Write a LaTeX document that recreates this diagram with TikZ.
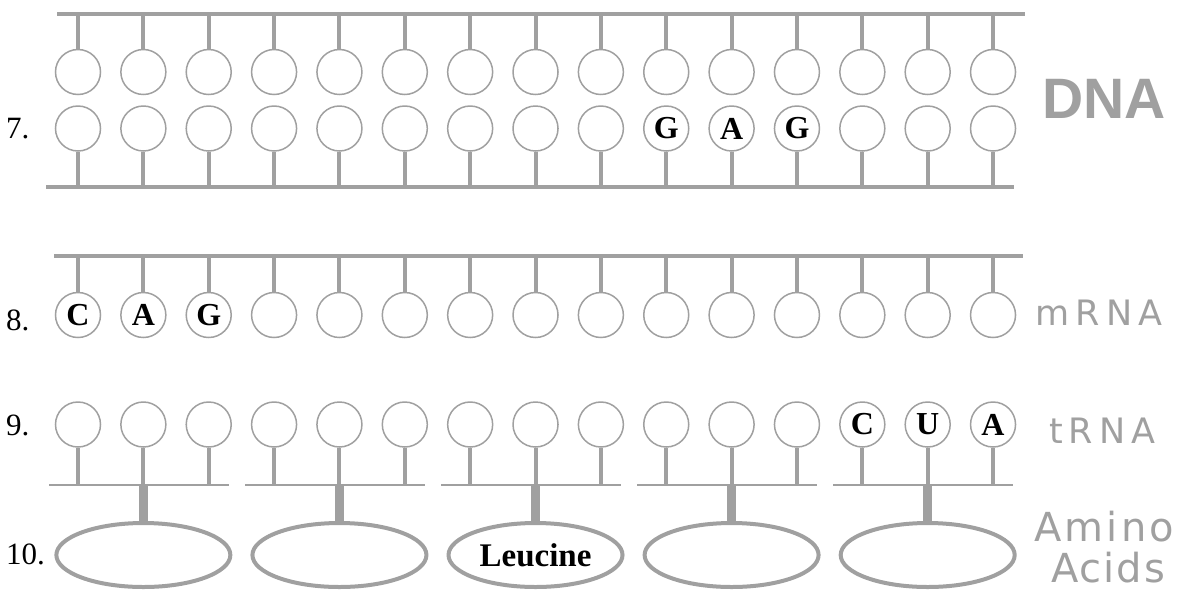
\documentclass[tikz,border=0pt]{standalone}
\usepackage{fontspec}
\setmainfont{Liberation Serif}
\newfontfamily\labfont{Liberation Sans}
\newfontfamily\widefont{DejaVu Sans}
\usetikzlibrary{shapes.geometric,calc}
\definecolor{lg}{HTML}{A0A0A0}
\begin{document}
\begin{tikzpicture}[x=1pt,y=-1pt,
  base/.style={circle,draw=lg,line width=1.5pt,minimum size=45pt,inner sep=0pt,
    font=\fontsize{32}{32}\selectfont\bfseries},
  rail/.style={draw=lg,line width=4.5pt},
  thinrail/.style={draw=lg,line width=2.5pt},
  stem/.style={draw=lg,line width=4pt},
  thickstem/.style={draw=lg,line width=9pt},
  amino/.style={ellipse,draw=lg,line width=4pt,minimum width=174pt,minimum height=64pt,
    inner sep=0pt,font=\fontsize{33}{33}\selectfont\bfseries},
  num/.style={anchor=west,inner sep=0pt,font=\fontsize{31}{31}\selectfont},
  biglab/.style={inner sep=0pt,text=lg}
]
\useasboundingbox (0,0) rectangle (1178,590);

% DNA rails
\coordinate (rdt0) at (57,14);   \coordinate (rdt1) at (1025,14);
\coordinate (rdb0) at (46,187);  \coordinate (rdb1) at (1014,187);
\draw[rail] (rdt0) -- (rdt1);
\draw[rail] (rdb0) -- (rdb1);
% mRNA rail
\coordinate (rm0) at (54,256);  \coordinate (rm1) at (1023,256);
\draw[rail] (rm0) -- (rm1);

% DNA rows
\foreach \t [count=\n from 0] in {{},{},{},{},{},{},{},{},{},{},{},{},{},{},{}} {
  \pgfmathsetmacro\x{78+65.36*\n}
  \node[base] (da\n) at (\x,72) {\t};
  \draw[stem] (da\n.north) -- (da\n.north |- rdt0);
}
\foreach \t [count=\n from 0] in {{},{},{},{},{},{},{},{},{},G,A,G,{},{},{}} {
  \pgfmathsetmacro\x{78+65.36*\n}
  \node[base] (db\n) at (\x,128.5) {\t};
  \draw[stem] (db\n.south) -- (db\n.south |- rdb0);
}
% mRNA row
\foreach \t [count=\n from 0] in {C,A,G,{},{},{},{},{},{},{},{},{},{},{},{}} {
  \pgfmathsetmacro\x{78+65.36*\n}
  \node[base] (m\n) at (\x,315) {\t};
  \draw[stem] (m\n.north) -- (m\n.north |- rm0);
}
% tRNA row
\foreach \t [count=\n from 0] in {{},{},{},{},{},{},{},{},{},{},{},{},C,U,A} {
  \pgfmathsetmacro\x{78+65.36*\n}
  \node[base] (t\n) at (\x,424.5) {\t};
  \coordinate (tb\n) at (\x,485);
  \draw[stem] (t\n.south) -- (tb\n);
}
% tRNA group rails and amino acids
\foreach \w [count=\k from 0] in {{},{},Leucine,{},{}} {
  \pgfmathtruncatemacro\a{3*\k}
  \pgfmathtruncatemacro\b{3*\k+1}
  \pgfmathtruncatemacro\c{3*\k+2}
  \draw[thinrail] ([xshift=-29pt]tb\a) -- ([xshift=20pt]tb\c);
  \node[amino] (aa\k) at ($(tb\b)+(0,70)$) {\w};
  \draw[thickstem] (tb\b) -- (aa\k.north);
}

% left numbers
\node[num] (n7) at (6,129) {7.};
\node[num] (n8) at (6,320) {8.};
\node[num] (n9) at (6,425) {9.};
\node[num] (n10) at (6,554) {10.};

% right labels
\node[biglab,font=\labfont\bfseries\fontsize{57}{57}\selectfont] (ldna) at (1104,99) {DNA};
\node[biglab,anchor=west,font=\widefont\fontsize{35}{35}\selectfont\addfontfeatures{LetterSpace=18}] (lm) at (1035,313) {mRNA};
\node[biglab,anchor=west,font=\widefont\fontsize{35}{35}\selectfont\addfontfeatures{LetterSpace=17}] (lt) at (1049,431) {tRNA};
\node[biglab,anchor=west,font=\widefont\fontsize{40}{40}\selectfont\addfontfeatures{LetterSpace=8}] (la1) at (1034,527) {Amino};
\node[biglab,anchor=west,font=\widefont\fontsize{40}{40}\selectfont\addfontfeatures{LetterSpace=5}] (la2) at (1051,568) {Acids};
\end{tikzpicture}
\end{document}
